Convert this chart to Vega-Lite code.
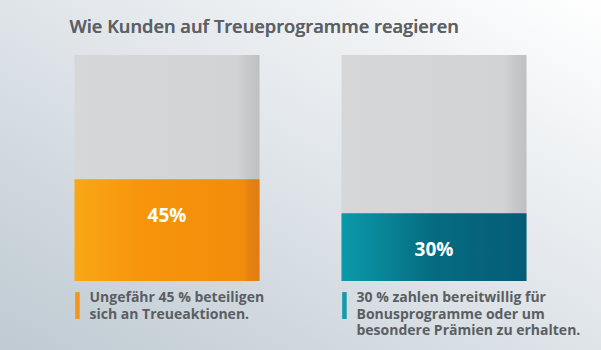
{
  "$schema": "https://vega.github.io/schema/vega-lite/v6.json",
  "width": 601,
  "height": 350,
  "padding": 0,
  "autosize": {"type": "fit", "contains": "padding"},
  "background": "#e4e8ec",
  "config": {
    "view": {
      "stroke": null,
      "fill": {"gradient": "linear", "x1": 0, "y1": 1, "x2": 1, "y2": 0, "stops": [
        {"offset": 0, "color": "#bfcad2"},
        {"offset": 0.55, "color": "#e2e7eb"},
        {"offset": 1, "color": "#ffffff"}
      ]}
    },
    "text": {"font": "Open Sans"}
  },
  "data": {"values": [
    {"cat": "A", "value": 45, "total": 100, "label": "45%", "caption": "Ungefähr 45 % beteiligen\nsich an Treueaktionen."},
    {"cat": "B", "value": 30, "total": 100, "label": "30%", "caption": "30 % zahlen bereitwillig für\nBonusprogramme oder um\nbesondere Prämien zu erhalten."}
  ]},
  "encoding": {
    "x": {"field": "cat", "type": "nominal", "axis": null,
      "scale": {"paddingInner": 0.307, "paddingOuter": 0.279}}
  },
  "layer": [
    {
      "mark": {"type": "bar", "fill": {"gradient": "linear", "x1": 0, "y1": 0, "x2": 1, "y2": 0, "stops": [
        {"offset": 0, "color": "#d6d7d9"},
        {"offset": 0.88, "color": "#d2d3d5"},
        {"offset": 0.93, "color": "#c8c9cb"},
        {"offset": 1, "color": "#bfc0c2"}
      ]}},
      "encoding": {
        "y": {"field": "total", "type": "quantitative", "axis": null,
          "scale": {"domain": [-30.53, 124.34], "nice": false, "zero": false}},
        "y2": {"datum": 0}
      }
    },
    {
      "transform": [{"filter": "datum.cat === 'A'"}],
      "mark": {"type": "bar", "fill": {"gradient": "linear", "x1": 0, "y1": 0, "x2": 1, "y2": 0, "stops": [
        {"offset": 0, "color": "#f9a716"},
        {"offset": 0.35, "color": "#f7950c"},
        {"offset": 0.92, "color": "#f28c0b"},
        {"offset": 0.93, "color": "#e98411"},
        {"offset": 1, "color": "#e07c12"}
      ]}},
      "encoding": {
        "y": {"field": "value", "type": "quantitative"},
        "y2": {"datum": 0}
      }
    },
    {
      "transform": [{"filter": "datum.cat === 'B'"}],
      "mark": {"type": "bar", "fill": {"gradient": "linear", "x1": 0, "y1": 0, "x2": 1, "y2": 0, "stops": [
        {"offset": 0, "color": "#0a9aaa"},
        {"offset": 0.5, "color": "#066b80"},
        {"offset": 1, "color": "#055c77"}
      ]}},
      "encoding": {
        "y": {"field": "value", "type": "quantitative"},
        "y2": {"datum": 0}
      }
    },
    {
      "mark": {"type": "text", "color": "#ffffff", "fontSize": 19, "fontWeight": "bold", "baseline": "middle", "dy": 37},
      "encoding": {
        "y": {"field": "value", "type": "quantitative"},
        "text": {"field": "label"}
      }
    },
    {
      "mark": {"type": "rule", "strokeWidth": 4.5},
      "encoding": {
        "x": {"field": "cat", "type": "nominal", "bandPosition": 0.016},
        "y": {"datum": -4.9},
        "y2": {"datum": -16.8},
        "stroke": {"field": "cat", "type": "nominal", "legend": null,
          "scale": {"range": ["#f7931b", "#129aad"]}}
      }
    },
    {
      "mark": {"type": "text", "align": "left", "baseline": "alphabetic", "dx": 15, "fontSize": 14, "fontWeight": "bold", "color": "#5a5e63", "lineBreak": "\n", "lineHeight": 16.5},
      "encoding": {
        "x": {"field": "cat", "type": "nominal", "bandPosition": 0},
        "y": {"datum": -9.3},
        "text": {"field": "caption"}
      }
    },
    {
      "mark": {"type": "text", "align": "left", "baseline": "alphabetic", "dx": -5, "fontSize": 18.3, "fontWeight": 600, "color": "#5d6166", "text": "Wie Kunden auf Treueprogramme reagieren"},
      "encoding": {
        "x": {"datum": "A", "bandPosition": 0},
        "y": {"datum": 109.7}
      }
    }
  ]
}
